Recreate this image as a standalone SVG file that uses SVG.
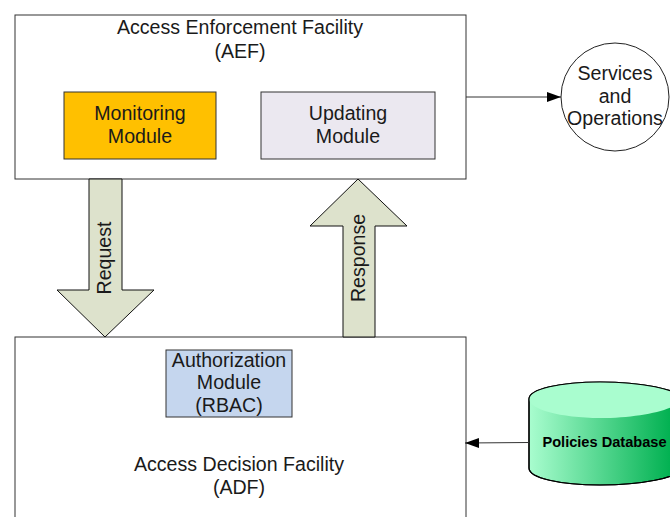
<svg xmlns="http://www.w3.org/2000/svg" width="670" height="517" viewBox="0 0 670 517">
<style>
text{font-family:"Liberation Sans",Arial,sans-serif;font-size:19.6px;fill:#1a1a1a;text-anchor:middle}
.box{stroke:#333;stroke-width:1}
.blk{fill:#dde2cc;stroke:#111;stroke-width:1;stroke-linejoin:round}
.conn{stroke:#333;stroke-width:1;fill:none}
</style>
<defs>
<linearGradient id="cyl" gradientUnits="userSpaceOnUse" x1="529" x2="672" y1="0" y2="0"><stop offset="0" stop-color="#a9fdcf"/><stop offset="1" stop-color="#00b050"/></linearGradient>
<marker id="ah" markerUnits="userSpaceOnUse" markerWidth="15" markerHeight="11" refX="14" refY="5" orient="auto"><path d="M0 0L14 5L0 10Z" fill="#000"/></marker>
</defs>
<g id="aef"><rect class="box" x="15" y="15" width="451" height="164" fill="#fff"/><text x="240" y="34">Access Enforcement Facility</text><text x="240" y="58">(AEF)</text></g>
<g id="adf"><rect class="box" x="15" y="337" width="451" height="190" fill="#fff"/><text x="239" y="471">Access Decision Facility</text><text x="239" y="494">(ADF)</text></g>
<g id="monitoring"><rect class="box" x="64" y="92" width="152" height="67" fill="#ffc000"/><text x="140" y="120">Monitoring</text><text x="140" y="143">Module</text></g>
<g id="updating"><rect class="box" x="261" y="92" width="174" height="67" fill="#ebe8f0"/><text x="348" y="120">Updating</text><text x="348" y="143">Module</text></g>
<g id="authorization"><rect class="box" x="166" y="350" width="126" height="67" fill="#c5d6ee"/><text x="229" y="367">Authorization</text><text x="229" y="389">Module</text><text x="229" y="412">(RBAC)</text></g>
<g id="services"><circle cx="615" cy="97" r="54" fill="#fff" stroke="#222"/><text x="615" y="80">Services</text><text x="615" y="103">and</text><text x="615" y="125">Operations</text></g>
<g id="database"><path d="M529 399C529 389 560 382 600 382C640 382 680 389 680 399V468C680 478 640 485 600 485C560 485 529 478 529 468Z" fill="url(#cyl)" stroke="#000" stroke-width="1.2"/><path d="M529 399C529 409 560 418 600 418C640 418 680 409 680 399C680 389 640 382 600 382C560 382 529 389 529 399Z" fill="#a9fdcf"/><path d="M529 399C529 389 560 382 600 382C640 382 680 389 680 399M529 399V468C529 478 560 485 600 485C640 485 680 478 680 468V399" fill="none" stroke="#000" stroke-width="1.2"/><text x="604.500" y="447" style="font-size:14.600px;font-weight:bold;fill:#000">Policies Database</text></g>
<g id="connectors">
<path class="blk" d="M89 179H122V290H154L105 337L57 290H89Z"/>
<path class="blk" d="M343 337V226H310L358 179L407 226H375V337Z"/>
<text transform="translate(111 258) rotate(-90)">Request</text>
<text transform="translate(365 258) rotate(-90)">Response</text>
<path class="conn" d="M466 97H561" marker-end="url(#ah)"/>
<path class="conn" d="M529 442.500L465 443" marker-end="url(#ah)"/>
</g>
</svg>
